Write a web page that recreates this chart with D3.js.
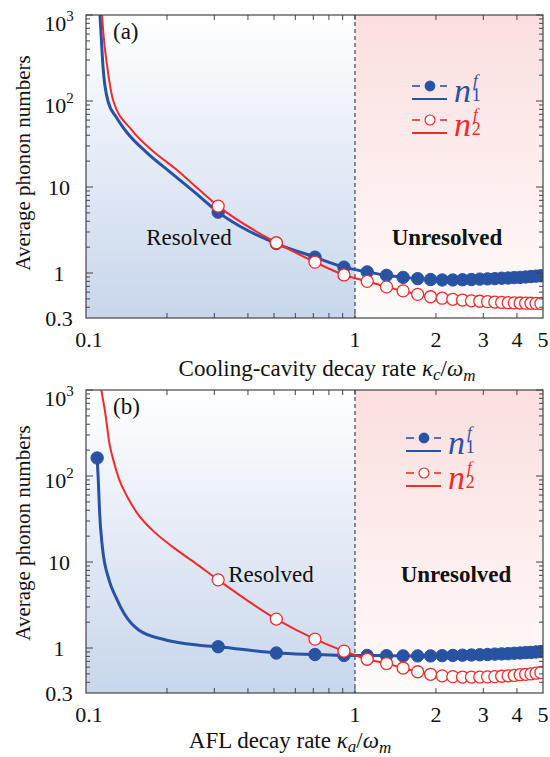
<!DOCTYPE html>
<meta charset="utf-8">
<style>
body { margin: 0; background: #fff; }
svg text { font-family: "Liberation Serif", "Times New Roman", Times, serif; fill: #111; }
</style>
<body>
<script src="https://d3js.org/d3.v7.min.js"></script>
<script>
// ---- data ----
// marker positions on the decay-rate axis (both panels)
var markX = [0.31, 0.51, 0.71, 0.91, 1.11, 1.31, 1.51, 1.71, 1.91, 2.11, 2.31, 2.51,
             2.71, 2.91, 3.11, 3.31, 3.51, 3.71, 3.91, 4.11, 4.31, 4.51, 4.71, 4.91];

// panel (a): steep part of the curves (line only) + values at the markers
var aN1SteepX = [0.1127, 0.1137, 0.1157, 0.1207, 0.13, 0.142, 0.1686, 0.205, 0.25];
var aN1SteepY = [1000, 617, 248, 100, 64, 43, 25, 15, 9];
var aN1 = [5.1, 2.2, 1.53, 1.17, 1.03, 0.94, 0.89, 0.86, 0.84, 0.83, 0.83, 0.835,
           0.84, 0.85, 0.855, 0.86, 0.87, 0.875, 0.885, 0.89, 0.9, 0.91, 0.92, 0.93];
var aN2SteepX = [0.1147, 0.116, 0.12, 0.1264, 0.148, 0.1754, 0.214, 0.25];
var aN2SteepY = [1000, 617, 248, 100, 46, 27, 16.5, 10.8];
var aN2 = [6.0, 2.25, 1.34, 0.95, 0.8, 0.69, 0.62, 0.565, 0.53, 0.51, 0.495, 0.485,
           0.475, 0.47, 0.465, 0.46, 0.455, 0.452, 0.45, 0.448, 0.446, 0.445, 0.444, 0.443];

// panel (b)
var bN1HeadX = [0.11];          // first marker of n1 in (b)
var bN1HeadY = [162];
var bN1SteepX = [0.1111, 0.1124, 0.115, 0.1218, 0.1289, 0.1384, 0.157, 0.198, 0.263];
var bN1SteepY = [90, 36.8, 15.1, 6.2, 3.95, 2.53, 1.62, 1.24, 1.08];
var bN1 = [1.035, 0.875, 0.84, 0.82, 0.82, 0.815, 0.81, 0.81, 0.81, 0.815, 0.82, 0.825,
           0.83, 0.835, 0.84, 0.85, 0.855, 0.86, 0.87, 0.875, 0.885, 0.89, 0.9, 0.91];
var bN2SteepX = [0.114, 0.1177, 0.1225, 0.127, 0.1327, 0.1424, 0.1552, 0.1765, 0.2094, 0.2557];
var bN2SteepY = [1000, 560, 230, 145, 92, 57.5, 36.8, 23.5, 15.1, 9.65];
var bN2 = [6.2, 2.17, 1.27, 0.92, 0.74, 0.66, 0.585, 0.53, 0.495, 0.475, 0.465, 0.46,
           0.46, 0.46, 0.462, 0.465, 0.47, 0.475, 0.48, 0.49, 0.495, 0.5, 0.51, 0.52];

// ticks
var xTickLabels = [0.1, 1, 2, 3, 4, 5];
var xMinor = [0.2, 0.3, 0.4, 0.5, 0.6, 0.7, 0.8, 0.9, 1, 2, 3, 4];
var yMajor = [1, 10, 100, 1000];
var yMinor = [0.4, 0.5, 0.6, 0.7, 0.8, 0.9, 2, 3, 4, 5, 6, 7, 8, 9,
              20, 30, 40, 50, 60, 70, 80, 90, 200, 300, 400, 500, 600, 700, 800, 900];
var yTickLabels = [
  { v: 1000, base: "10", sup: "3" },
  { v: 100, base: "10", sup: "2" },
  { v: 10, base: "10" },
  { v: 1, base: "1" },
  { v: 0.3, base: "0.3" }
];

var blue = "#2853a3", red = "#ef2b2b";
var width = 550, height = 757;
var serif = "'Liberation Serif', 'Times New Roman', Times, serif";

var svg = d3.select("body").append("svg")
    .attr("width", width)
    .attr("height", height)
    .attr("font-family", serif);

var defs = svg.append("defs");
var gb = defs.append("linearGradient").attr("id", "gBlue")
    .attr("x1", 0).attr("y1", 0).attr("x2", 0).attr("y2", 1);
gb.append("stop").attr("offset", 0).attr("stop-color", "#ffffff");
gb.append("stop").attr("offset", 1).attr("stop-color", "#c8d6ec");
var gr = defs.append("linearGradient").attr("id", "gRed")
    .attr("x1", 0).attr("y1", 0).attr("x2", 0).attr("y2", 1);
gr.append("stop").attr("offset", 0).attr("stop-color", "#fbdfdf");
gr.append("stop").attr("offset", 1).attr("stop-color", "#fffbfa");

function zip(xs, ys) { return xs.map(function(v, i) { return [v, ys[i]]; }); }

function drawPanel(cfg) {
  var left = 86, right = 543;
  var x = d3.scaleLog().domain([0.1, 5]).range([left, right]);
  var y = d3.scaleLog().domain([0.3, 1000]).range([cfg.bottom, cfg.top]);
  var g = svg.append("g");

  defs.append("clipPath").attr("id", "clip" + cfg.id)
    .append("rect")
      .attr("x", left).attr("y", cfg.top)
      .attr("width", right - left).attr("height", cfg.bottom - cfg.top);

  // resolved / unresolved backgrounds
  g.append("rect")
      .attr("x", x(0.1)).attr("y", cfg.top)
      .attr("width", x(1) - x(0.1)).attr("height", cfg.bottom - cfg.top)
      .attr("fill", "url(#gBlue)");
  g.append("rect")
      .attr("x", x(1)).attr("y", cfg.top)
      .attr("width", x(5) - x(1)).attr("height", cfg.bottom - cfg.top)
      .attr("fill", "url(#gRed)");
  g.append("line")
      .attr("x1", x(1)).attr("x2", x(1))
      .attr("y1", cfg.top).attr("y2", cfg.bottom)
      .attr("stroke", "#222").attr("stroke-width", 1)
      .attr("stroke-dasharray", "4,3");

  // region labels
  g.append("text").attr("x", cfg.resolved[0]).attr("y", cfg.resolved[1])
      .attr("text-anchor", "middle").style("font-size", "23px").text("Resolved");
  g.append("text").attr("x", cfg.unresolved[0]).attr("y", cfg.unresolved[1])
      .attr("text-anchor", "middle").style("font-size", "23px")
      .style("font-weight", "bold").text("Unresolved");

  var line = d3.line()
      .x(function(d) { return x(d[0]); })
      .y(function(d) { return y(d[1]); })
      .curve(d3.curveMonotoneX);

  var plot = g.append("g").attr("clip-path", "url(#clip" + cfg.id + ")");
  cfg.series.forEach(function(s) {
    plot.append("path")
        .datum(s.line)
        .attr("d", line)
        .attr("fill", "none")
        .attr("stroke", s.color)
        .attr("stroke-width", s.width);
    plot.selectAll(null)
        .data(s.marks)
        .enter().append("circle")
        .attr("cx", function(d) { return x(d[0]); })
        .attr("cy", function(d) { return y(d[1]); })
        .attr("r", s.filled ? 6.2 : 6)
        .attr("fill", s.filled ? s.color : "#fff")
        .attr("stroke", s.color)
        .attr("stroke-width", s.filled ? 1 : 1.3);
  });

  // frame and ticks
  g.append("rect")
      .attr("x", left).attr("y", cfg.top)
      .attr("width", right - left).attr("height", cfg.bottom - cfg.top)
      .attr("fill", "none").attr("stroke", "#444").attr("stroke-width", 1.2);

  var ticks = g.append("g").attr("stroke", "#444").attr("stroke-width", 1);
  xMinor.forEach(function(v) {
    var len = 5;
    ticks.append("line").attr("x1", x(v)).attr("x2", x(v))
        .attr("y1", cfg.bottom).attr("y2", cfg.bottom - len);
    ticks.append("line").attr("x1", x(v)).attr("x2", x(v))
        .attr("y1", cfg.top).attr("y2", cfg.top + len);
  });
  yMajor.concat(yMinor).forEach(function(v) {
    var len = yMajor.indexOf(v) >= 0 ? 7 : 4;
    ticks.append("line").attr("x1", left).attr("x2", left + len)
        .attr("y1", y(v)).attr("y2", y(v));
    ticks.append("line").attr("x1", right).attr("x2", right - len)
        .attr("y1", y(v)).attr("y2", y(v));
  });

  // tick labels
  xTickLabels.forEach(function(v) {
    g.append("text")
        .attr("x", x(v) + (v === 0.1 ? 3 : 0)).attr("y", cfg.bottom + 29)
        .attr("text-anchor", "middle").style("font-size", "22px")
        .text(v);
  });
  yTickLabels.forEach(function(t) {
    var dy = t.sup ? (t.v === 1000 ? 16 : 12) : 8;
    var tx = g.append("text")
        .attr("x", 59).attr("y", y(t.v) + dy)
        .attr("text-anchor", "middle").style("font-size", "22px");
    tx.append("tspan").text(t.base);
    if (t.sup) {
      tx.append("tspan").attr("dy", -10).style("font-size", "15px").text(t.sup);
    }
  });

  // axis titles
  g.append("text")
      .attr("transform", "translate(30," + cfg.ylabelY + ") rotate(-90)")
      .attr("text-anchor", "middle").style("font-size", "21px")
      .text("Average phonon numbers");

  var xl = g.append("text")
      .attr("x", cfg.xlabel[0]).attr("y", cfg.xlabel[1])
      .attr("text-anchor", "middle").style("font-size", "23px");
  xl.append("tspan").text(cfg.xtitle + " ");
  xl.append("tspan").style("font-style", "italic").text("\u03ba");
  xl.append("tspan").attr("dy", 4).style("font-style", "italic")
      .style("font-size", "17px").text(cfg.sub);
  xl.append("tspan").attr("dy", -4).text("/");
  xl.append("tspan").style("font-style", "italic").text("\u03c9");
  xl.append("tspan").attr("dy", 5).style("font-style", "italic")
      .style("font-size", "17px").text("m");

  // panel tag
  g.append("text").attr("x", 113).attr("y", cfg.top + 24)
      .style("font-size", "23px").text(cfg.tag);

  // legend
  var lg = cfg.legend;
  [[blue, true, "1"], [red, false, "2"]].forEach(function(item, i) {
    var ym = lg.y + i * lg.step;
    var x0 = lg.x, x1 = lg.x + 35, xc = lg.x + 18;
    g.append("line").attr("x1", x0).attr("x2", x0 + 8).attr("y1", ym).attr("y2", ym)
        .attr("stroke", item[0]).attr("stroke-width", 1.6);
    g.append("line").attr("x1", x1 - 7).attr("x2", x1).attr("y1", ym).attr("y2", ym)
        .attr("stroke", item[0]).attr("stroke-width", 1.6);
    g.append("circle").attr("cx", xc).attr("cy", ym).attr("r", item[1] ? 4.8 : 5)
        .attr("fill", item[1] ? item[0] : "#fff")
        .attr("stroke", item[0]).attr("stroke-width", 1.2);
    g.append("line").attr("x1", x0).attr("x2", x1).attr("y1", ym + 13).attr("y2", ym + 13)
        .attr("stroke", item[0]).attr("stroke-width", 2);
    // n with superscript f and subscript index stacked in one text
    var lt = g.append("text").attr("x", x1 + 7).attr("y", ym + 16)
        .style("fill", item[0]);
    lt.append("tspan").style("font-size", "34px").style("font-style", "italic").text("n");
    lt.append("tspan").attr("dx", 2).attr("dy", -16)
        .style("font-size", "17px").style("font-style", "italic").text("f");
    lt.append("tspan").attr("dx", -6).attr("dy", 15)
        .style("font-size", "18px").text(item[2]);
  });
}

drawPanel({
  id: "a", tag: "(a)", top: 15, bottom: 318,
  xtitle: "Cooling-cavity decay rate", sub: "c",
  xlabel: [327, 376], ylabelY: 163,
  resolved: [189, 245], unresolved: [447, 245],
  legend: { x: 412, y: 86, step: 34 },
  series: [
    { color: blue, width: 3, filled: true,
      line: zip(aN1SteepX.concat(markX), aN1SteepY.concat(aN1)),
      marks: zip(markX, aN1) },
    { color: red, width: 2, filled: false,
      line: zip(aN2SteepX.concat(markX), aN2SteepY.concat(aN2)),
      marks: zip(markX, aN2) }
  ]
});

drawPanel({
  id: "b", tag: "(b)", top: 390, bottom: 693,
  xtitle: "AFL decay rate", sub: "a",
  xlabel: [290, 748], ylabelY: 533,
  resolved: [271, 582], unresolved: [456, 582],
  legend: { x: 406, y: 438, step: 35 },
  series: [
    { color: blue, width: 3, filled: true,
      line: zip(bN1HeadX.concat(bN1SteepX, markX), bN1HeadY.concat(bN1SteepY, bN1)),
      marks: zip(bN1HeadX.concat(markX), bN1HeadY.concat(bN1)) },
    { color: red, width: 2, filled: false,
      line: zip(bN2SteepX.concat(markX), bN2SteepY.concat(bN2)),
      marks: zip(markX, bN2) }
  ]
});
</script>
